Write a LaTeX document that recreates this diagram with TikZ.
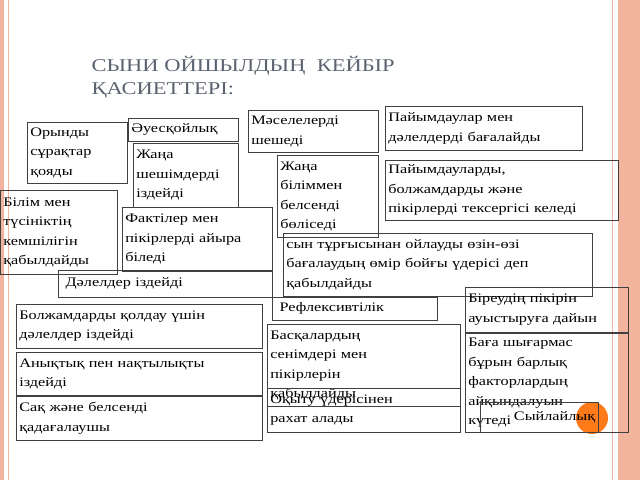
\documentclass[tikz,border=0pt]{standalone}
\usepackage{fontspec}
\setmainfont{Liberation Serif}[FakeStretch=1.25]
\definecolor{salmon}{HTML}{F2B49C}
\definecolor{titlegray}{HTML}{5B6270}
\tikzset{kbox/.style={draw=black!75,line width=.6pt,anchor=north west,inner sep=3pt,
  align=left,font=\fontsize{13}{19.5}\selectfont}}
\begin{document}
\begin{tikzpicture}[x=1pt,y=-1pt]
\useasboundingbox (0,0) rectangle (640,480);
% frame
\fill[salmon] (0,0) rectangle (4,480);
\draw[salmon,line width=1pt] (8,0) -- (8,480);
\draw[salmon,line width=1pt] (612,0) -- (612,480);
\fill[salmon] (618,0) rectangle (640,480);
% title
\node[anchor=north west,align=left,text=titlegray,font=\fontsize{18}{23}\selectfont] (title) at (88,53)
  {СЫНИ ОЙШЫЛДЫҢ\ \ КЕЙБІР\\ҚАСИЕТТЕРІ:};
% boxes
\node[kbox,text width=124pt,minimum height=42pt] (mas) at (248,110) {Мәселелерді\\шешеді};
\node[kbox,text width=191pt,minimum height=44pt] (pai) at (385,106) {Пайымдаулар мен\\дәлелдерді бағалайды};
\node[kbox,text width=104pt,minimum height=23pt] (aue) at (128,118) {Әуесқойлық};
\node[kbox,text width=94pt,minimum height=61pt] (ory) at (27,122) {Орынды\\сұрақтар\\қояды};
\node[kbox,text width=99pt,minimum height=64pt] (shesh) at (133,143) {Жаңа\\шешімдерді\\іздейді};
\node[kbox,text width=95pt,minimum height=82pt] (bel) at (277,155) {Жаңа\\біліммен\\белсенді\\бөліседі};
\node[kbox,text width=227pt,minimum height=60pt] (tek) at (385,160) {Пайымдауларды,\\болжамдарды және\\пікірлерді тексергісі келеді};
\node[kbox,text width=111pt,minimum height=84pt] (kem) at (0,190) {Білім мен\\түсініктің\\кемшілігін\\қабылдайды};
\node[kbox,text width=144pt,minimum height=64pt] (fak) at (122,207) {Фактілер мен\\пікірлерді айыра\\біледі};
\node[kbox,text width=303pt,minimum height=63pt] (syn) at (283,233) {сын тұрғысынан ойлауды өзін-өзі\\бағалаудың өмір бойғы үдерісі деп\\қабылдайды};
\node[kbox,text width=208pt,minimum height=27pt] (dal) at (58,270) {\ Дәлелдер іздейді};
\node[kbox,text width=159pt,minimum height=23pt] (ref) at (272,297) {\ Рефлексивтілік};
\node[kbox,text width=157pt,minimum height=45pt] (bir) at (465,287) {Біреудің пікірін\\ауыстыруға дайын};
\node[kbox,text width=240pt,minimum height=44pt] (bol) at (16,304) {Болжамдарды қолдау үшін\\дәлелдер іздейді};
\node[kbox,text width=187pt,minimum height=82pt] (bas) at (267,324) {Басқалардың\\сенімдері мен\\пікірлерін\\қабылдайды};
\node[kbox,text width=157pt,minimum height=99pt] (bag) at (465,333) {Баға шығармас\\бұрын барлық\\факторлардың\\айқындалуын\\күтеді};
\node[kbox,text width=240pt,minimum height=43pt] (any) at (16,352) {Анықтық пен нақтылықты\\іздейді};
\node[kbox,text width=240pt,minimum height=44pt] (sak) at (16,396) {Сақ және белсенді\\қадағалаушы};
\node[kbox,text width=187pt,minimum height=44pt] (oky) at (267,388) {Оқыту үдерісінен\\рахат алады};
\fill[orange!85!red!90] (592,418) circle (16);
\node[kbox,text width=112pt,minimum height=30pt,align=right] (syi) at (480,402) {Сыйлайлық};
\end{tikzpicture}
\end{document}
